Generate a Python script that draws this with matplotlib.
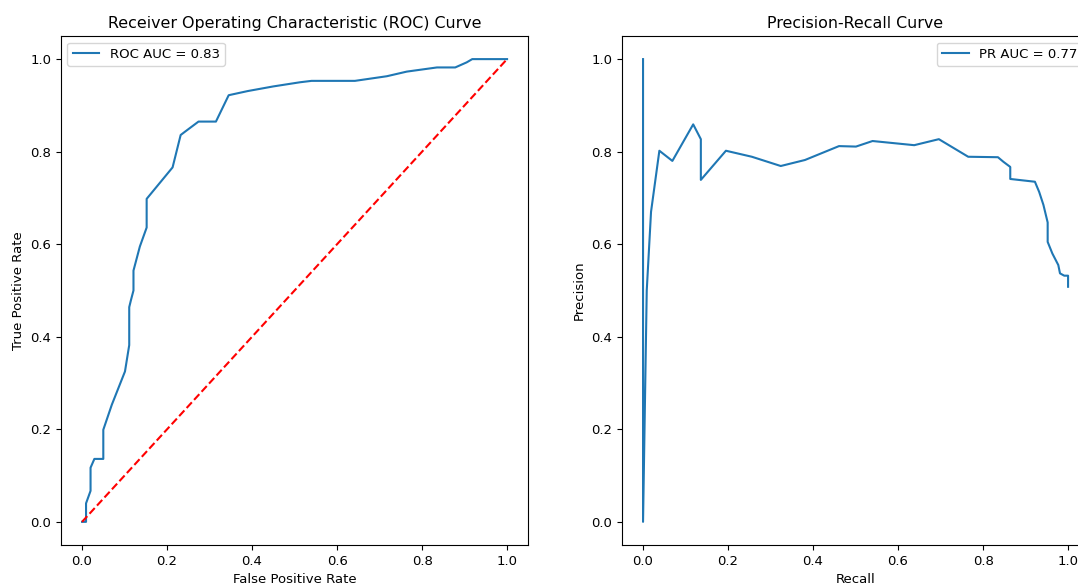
import numpy as np
import matplotlib.pyplot as plt

# ROC curve points
fpr = [0.0, 0.0094, 0.0094, 0.020, 0.020, 0.029, 0.050, 0.050, 0.070, 0.101, 0.111,
       0.111, 0.115, 0.121, 0.121, 0.136, 0.152, 0.152, 0.213, 0.232, 0.242, 0.274,
       0.315, 0.345, 0.390, 0.450, 0.513, 0.540, 0.642, 0.717, 0.764, 0.835, 0.878,
       0.905, 0.918, 1.0]
tpr = [0.0, 0.0, 0.040, 0.067, 0.117, 0.136, 0.136, 0.199, 0.253, 0.325, 0.382,
       0.464, 0.479, 0.500, 0.543, 0.595, 0.636, 0.698, 0.766, 0.836, 0.843, 0.865,
       0.865, 0.922, 0.931, 0.941, 0.950, 0.953, 0.953, 0.963, 0.973, 0.982, 0.982,
       0.993, 1.0, 1.0]
roc_auc = 0.83

# precision-recall points, recall going from 1 down to 0
recall = [1.0, 1.0, 0.991, 0.981, 0.977, 0.963, 0.952, 0.952, 0.942, 0.932, 0.922,
          0.864, 0.864, 0.848, 0.835, 0.765, 0.696, 0.638, 0.540, 0.501, 0.461,
          0.381, 0.324, 0.256, 0.195, 0.136, 0.136, 0.118, 0.069, 0.0384, 0.0188,
          0.0087, 0.0, 0.0]
precision = [0.508, 0.532, 0.532, 0.537, 0.555, 0.580, 0.605, 0.647, 0.685, 0.713,
             0.735, 0.741, 0.767, 0.778, 0.788, 0.789, 0.827, 0.814, 0.823, 0.811,
             0.812, 0.782, 0.769, 0.789, 0.802, 0.739, 0.827, 0.859, 0.780, 0.802,
             0.670, 0.500, 0.0, 1.0]
pr_auc = 0.77

plt.rcParams["font.size"] = 9.5
plt.rcParams["axes.titlesize"] = 11.4

fig = plt.figure(figsize=(10.78, 5.86), dpi=100)
ax1 = fig.add_axes([0.0564, 0.070, 0.4337, 0.8686])
ax2 = fig.add_axes([0.5768, 0.070, 0.4337, 0.8686])

ax1.plot(fpr, tpr, label="ROC AUC = {:.2f}".format(roc_auc))
ax1.plot([0, 1], [0, 1], "r--")
ax1.set_xlabel("False Positive Rate")
ax1.set_ylabel("True Positive Rate")
ax1.set_title("Receiver Operating Characteristic (ROC) Curve")
ax1.legend(loc="upper left")

ax2.plot(recall, precision, label="PR AUC = {:.2f}".format(pr_auc))
ax2.set_xlabel("Recall")
ax2.set_ylabel("Precision")
ax2.set_title("Precision-Recall Curve")
ax2.legend(loc="upper right")

fig.savefig("out.png", dpi=100)
